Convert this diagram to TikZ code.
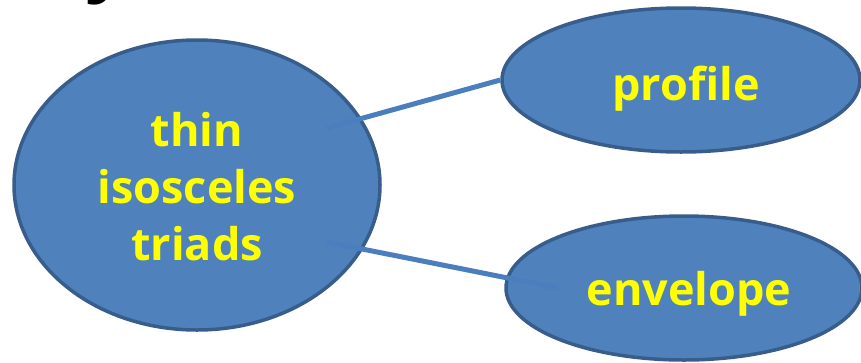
\documentclass[tikz,border=0pt]{standalone}
\usepackage{fontspec}
\setmainfont{Open Sans}
\usetikzlibrary{shapes.geometric}
\definecolor{fillblue}{HTML}{4F81BD}
\definecolor{edgeblue}{HTML}{385D8A}
\definecolor{lineblue}{HTML}{4A7EBF}
\definecolor{txtyellow}{HTML}{FFFF00}
\tikzset{
  bubble/.style={ellipse, draw=edgeblue, fill=fillblue, line width=3.5pt, inner sep=0pt},
  label/.style={text=txtyellow, font=\fontsize{45}{57}\selectfont\bfseries, align=center, inner sep=0pt},
  link/.style={draw=lineblue, line width=5pt}
}
\begin{document}
\begin{tikzpicture}[x=1pt,y=-1pt]
\useasboundingbox (0,0) rectangle (861,362);
\node[font=\fontsize{90}{90}\selectfont, text=black, anchor=base, inner sep=0pt] (frag) at (110,-17) {y};
\node[bubble, minimum width=366pt, minimum height=290pt] (big) at (197,185) {};
\node[bubble, minimum width=358pt, minimum height=144pt] (profile) at (681,80) {};
\node[bubble, minimum width=356pt, minimum height=144pt] (envelope) at (684,288) {};
\node[label, anchor=center] (bigtext) at (197,187) {thin\\isosceles\\triads};
\node[label, anchor=base] (proftext) at (686,100) {profile};
\node[label, anchor=base] (envtext) at (689,305) {envelope};
\coordinate (a1) at (327,128);
\coordinate (a2) at (327,242);
\coordinate (b2) at (558,288);
\draw[link] (a1) -- (profile.west);
\draw[link] (a2) -- (b2);
\end{tikzpicture}
\end{document}
